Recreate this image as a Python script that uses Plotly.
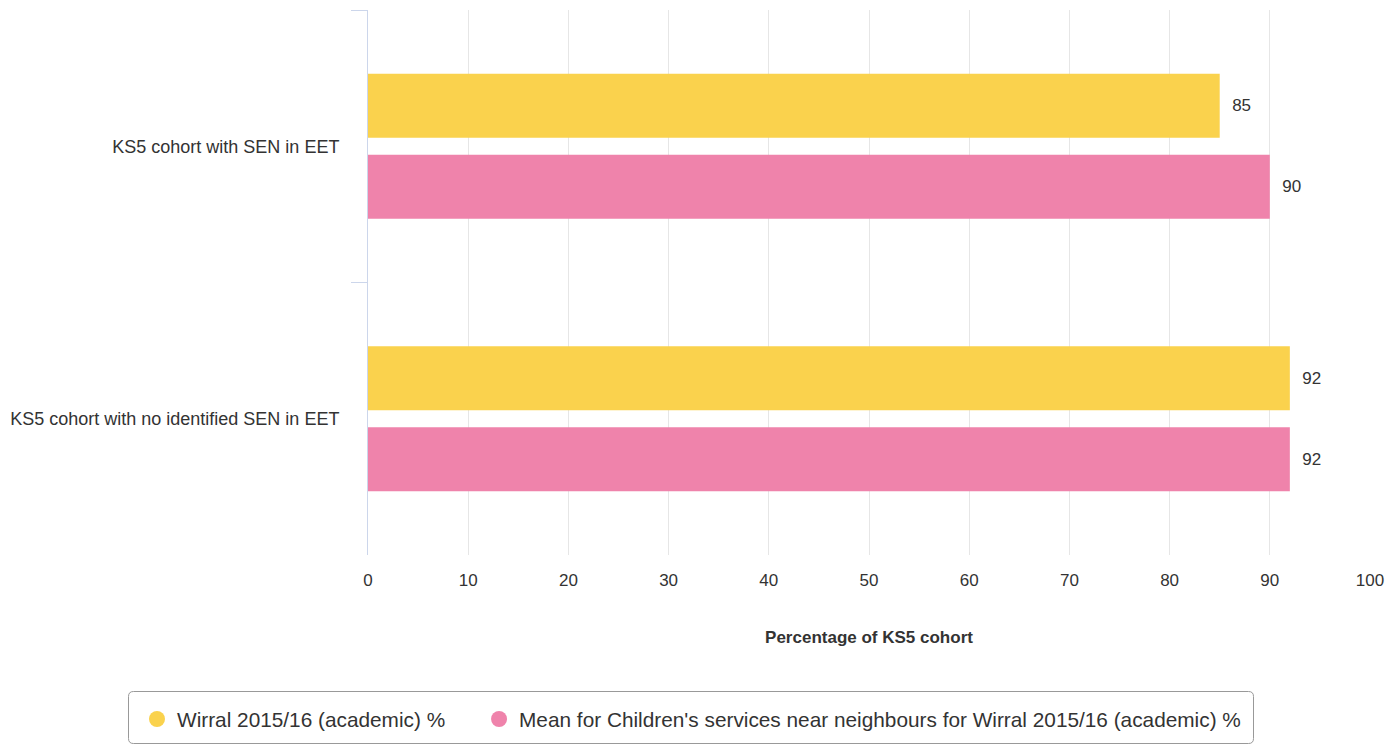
import plotly.graph_objects as go

categories = ["KS5 cohort with SEN in EET", "KS5 cohort with no identified SEN in EET"]
series_names = ["Wirral 2015/16 (academic) %",
                "Mean for Children's services near neighbours for Wirral 2015/16 (academic) %"]
wirral = [85, 92]
neighbours = [90, 92]
colors = ["#fad24d", "#ef83ab"]
x_ticks = list(range(0, 101, 10))

FONT = "Liberation Sans, Arial, sans-serif"
fig = go.Figure()
for name, vals, col in zip(series_names, [wirral, neighbours], colors):
    fig.add_trace(go.Bar(
        y=categories, x=vals, orientation="h", name=name,
        marker=dict(color=col, line=dict(width=0)),
        text=["\u00a0\u00a0" + str(v) for v in vals], textposition="outside",
        textfont=dict(size=17, color="#333333", family=FONT),
        cliponaxis=False, showlegend=False, hoverinfo="x+name"))
for i, (name, col) in enumerate(zip(series_names, colors)):
    label = name + ("\u00a0" * 5 if i == 0 else "")
    fig.add_trace(go.Scatter(
        x=[None], y=[None], mode="markers", name=label,
        marker=dict(symbol="circle", size=18, color=col)))

W, H = 1386, 745
L, R, T, B = 368, 16, 10, 190
pw, ph = W - L - R, H - T - B


def px2x(px):
    return (px - L) / pw


def px2y(py):
    return (H - B - py) / ph


# rounded legend frame
x0, x1, y0, y1, r = 128.5, 1253.5, 691.5, 743.5, 5
path = (f"M {px2x(x0 + r)},{px2y(y0)} L {px2x(x1 - r)},{px2y(y0)} "
        f"Q {px2x(x1)},{px2y(y0)} {px2x(x1)},{px2y(y0 + r)} "
        f"L {px2x(x1)},{px2y(y1 - r)} Q {px2x(x1)},{px2y(y1)} {px2x(x1 - r)},{px2y(y1)} "
        f"L {px2x(x0 + r)},{px2y(y1)} Q {px2x(x0)},{px2y(y1)} {px2x(x0)},{px2y(y1 - r)} "
        f"L {px2x(x0)},{px2y(y0 + r)} Q {px2x(x0)},{px2y(y0)} {px2x(x0 + r)},{px2y(y0)} Z")

fig.update_layout(
    width=W, height=H,
    margin=dict(l=L, r=R, t=T, b=B, autoexpand=False),
    paper_bgcolor="white", plot_bgcolor="white",
    font=dict(family=FONT, color="#333333"),
    barmode="group", bargap=0.406, bargroupgap=0.21,
    showlegend=True,
    legend=dict(orientation="h", xref="paper", yref="paper",
                x=px2x(137), xanchor="left",
                y=px2y(699), yanchor="top",
                borderwidth=0, bgcolor="rgba(0,0,0,0)",
                font=dict(size=20.8, color="#333333", family=FONT),
                itemwidth=30),
    shapes=[dict(type="path", xref="paper", yref="paper", path=path,
                 line=dict(color="#999999", width=1), layer="above")],
    xaxis=dict(range=[0, 100], tickvals=x_ticks, showgrid=True,
               gridcolor="#e6e6e6", gridwidth=1, zeroline=False,
               showline=False, ticks="outside", ticklen=10,
               tickcolor="rgba(0,0,0,0)", automargin=False,
               tickfont=dict(size=17, color="#333333"),
               title=dict(text="<b>Percentage of KS5 cohort</b>",
                          font=dict(size=17, color="#333333"), standoff=41)),
    yaxis=dict(autorange="reversed", type="category", showgrid=False,
               showline=True, linecolor="#ccd6eb", linewidth=1,
               ticks="outside", tickson="boundaries", ticklen=16,
               tickcolor="#ccd6eb", ticklabelstandoff=24, automargin=False,
               tickfont=dict(size=18, color="#333333")),
)
fig.write_html("out.html", config={"displayModeBar": False},
               post_script="document.body.style.margin='0';")
